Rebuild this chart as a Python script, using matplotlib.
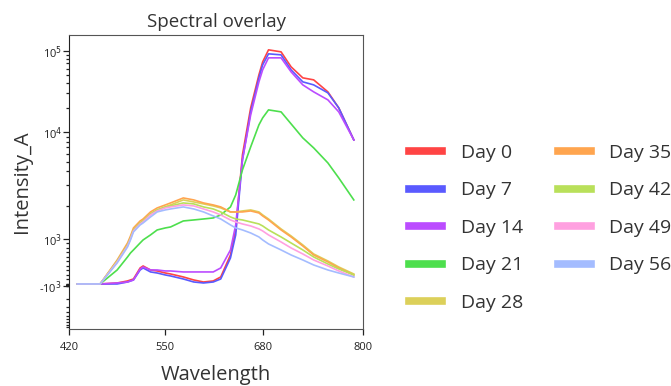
import numpy as np
import matplotlib
matplotlib.use('Agg')
import matplotlib.pyplot as plt
from matplotlib.ticker import FixedLocator, NullLocator

plt.rcParams['font.family'] = ['Open Sans', 'DejaVu Sans']

# wavelengths of the detector channels
wavelength = [431, 462, 485, 499, 503, 507, 516, 520, 530, 539, 550, 557, 574, 588, 601,
              614, 624, 637, 644, 653, 664, 675, 680, 687, 702, 714, 728, 741, 758, 771, 789]

day0 = [0, 0, 22, 67, 89, 111, 356, 400, 311, 289, 244, 222, 156, 89, 44,
        67, 156, 644, 1208, 5853, 19980, 50770, 73280, 102930, 97200, 63640, 46640, 44080, 31400, 19980, 8365]
day7 = [0, 0, 0, 44, 67, 89, 311, 356, 267, 244, 200, 178, 111, 44, 22,
        44, 111, 578, 1088, 5196, 17848, 46640, 67340, 91880, 89330, 58470, 41650, 38260, 30530, 19980, 8365]
day14 = [0, 0, 22, 44, 67, 89, 333, 378, 311, 311, 289, 289, 267, 267, 267,
         267, 356, 756, 1342, 5196, 16398, 41650, 58470, 82070, 82070, 55250, 38260, 31400, 25050, 17848, 8365]
day21 = [0, 0, 311, 600, 689, 756, 911, 978, 1088, 1208, 1260, 1286, 1459, 1490, 1521,
         1554, 1656, 1959, 2473, 4096, 7079, 12360, 15070, 18880, 17848, 12718, 8774, 6918, 4838, 3464, 2246]
day28 = [0, 0, 489, 867, 1021, 1208, 1399, 1459, 1690, 1839, 1959, 2039, 2246, 2160, 2079,
         2000, 1918, 1763, 1763, 1800, 1839, 1763, 1656, 1521, 1234, 1065, 867, 667, 511, 378, 222]
day35 = [0, 0, 533, 911, 1065, 1260, 1459, 1521, 1763, 1918, 2039, 2119, 2333, 2246, 2119,
         2039, 1959, 1763, 1763, 1763, 1800, 1726, 1621, 1490, 1208, 1043, 844, 644, 489, 356, 200]
day42 = [0, 0, 511, 867, 1021, 1208, 1399, 1459, 1690, 1839, 1959, 2000, 2119, 2079, 1959,
         1877, 1763, 1587, 1521, 1490, 1429, 1370, 1314, 1208, 1043, 911, 756, 600, 444, 333, 200]
day49 = [0, 0, 489, 844, 1000, 1183, 1370, 1429, 1656, 1800, 1918, 1959, 2039, 2000, 1877,
         1763, 1656, 1490, 1429, 1370, 1314, 1234, 1183, 1088, 933, 800, 667, 533, 400, 289, 156]
day56 = [0, 0, 467, 822, 978, 1158, 1342, 1399, 1587, 1763, 1839, 1877, 1959, 1877, 1763,
         1621, 1521, 1342, 1260, 1208, 1134, 1043, 978, 889, 756, 644, 533, 422, 311, 244, 156]

labels = ['Day 0', 'Day 7', 'Day 14', 'Day 21', 'Day 28', 'Day 35', 'Day 42', 'Day 49', 'Day 56']
series = [day0, day7, day14, day21, day28, day35, day42, day49, day56]
colors = ['#ff4444', '#5a5aff', '#bb4cff', '#4ddf4d', '#dcd05a',
          '#ffa54f', '#b9e05a', '#ffa0e0', '#a4bcff']

# biexponential-like display scale, built from where the decades sit on the axis
def u(v):
    v = np.asarray(v, dtype=float)
    a = np.abs(v) / 1000.0
    return np.where(a <= 1, v / 1000.0, np.sign(v) * (1 + np.log10(np.maximum(a, 1))))

def u_inv(s):
    s = np.asarray(s, dtype=float)
    a = np.abs(s)
    return np.where(a <= 1, s * 1000.0, np.sign(s) * 1000.0 * 10 ** (np.maximum(a, 1) - 1))

y_vals = [-10000, -1000, 0, 1000, 2000, 3000, 4000, 10000, 100000, 200000]
y_pos = [0, 43, 45, 90, 123, 144, 158, 196.5, 278, 302]
UK = u(y_vals)

def yfwd(v):
    return np.interp(u(v), UK, y_pos)

def yinv(p):
    return u_inv(np.interp(p, y_pos, UK))

# channel axis: labels are not evenly spaced
x_vals = [420, 550, 680, 800]
x_pos = [0, 96, 193, 293]

def xfwd(v):
    return np.interp(v, x_vals, x_pos)

def xinv(p):
    return np.interp(p, x_pos, x_vals)

fig = plt.figure(figsize=(6.71, 3.86), dpi=100)
ax = fig.add_axes([69 / 671, 1 - 329 / 386, 294 / 671, 294 / 386])
ax.set_xscale('function', functions=(xfwd, xinv))
ax.set_yscale('function', functions=(yfwd, yinv))

for lab, ys, c in zip(labels, series, colors):
    ax.plot(wavelength, ys, color=c, lw=1.2, label=lab)

ax.set_xlim(420, 800)
ax.set_ylim(-10000, 158000)
ax.set_xticks(x_vals)
ax.set_xticklabels([str(v) for v in x_vals], fontsize=8)
ax.xaxis.set_minor_locator(NullLocator())

ax.set_yticks([-1000, 1000, 10000, 100000])
ax.set_yticklabels(['-10$^3$', '10$^3$', '10$^4$', '10$^5$'], fontsize=8)
minor = [m * d for d in (100, 1000, 10000) for m in range(2 if d > 100 else 1, 10)]
ax.yaxis.set_minor_locator(FixedLocator(minor + [-m for m in minor if m < 10000]))
ax.tick_params(axis='y', which='major', length=4, width=0.9, pad=1, colors='#222222')
ax.tick_params(axis='y', which='minor', length=2.5, width=0.9, color='#222222')
ax.tick_params(axis='x', which='major', length=4, width=0.9, pad=5, colors='#222222')

for side in ['top', 'right', 'bottom']:
    ax.spines[side].set_color('#555555')
ax.spines['left'].set_color('#222222')

ax.set_title('Spectral overlay', fontsize=13.5, color='#333333', pad=6)
ax.set_xlabel('Wavelength', fontsize=14.5, color='#333333', labelpad=9)
ax.set_ylabel('Intensity_A', fontsize=14.5, color='#333333', labelpad=5)

leg = fig.legend(loc='upper left', bbox_to_anchor=(409 / 671, 1 - 144 / 386), ncol=2,
                 frameon=False, fontsize=14, handlelength=1.7, handletextpad=0.95,
                 columnspacing=1.8, labelspacing=1.0, borderpad=0, borderaxespad=0)
for line in leg.get_lines():
    line.set_linewidth(5.5)
for t in leg.get_texts():
    t.set_color('#333333')

fig.savefig('out.png', dpi=100)
